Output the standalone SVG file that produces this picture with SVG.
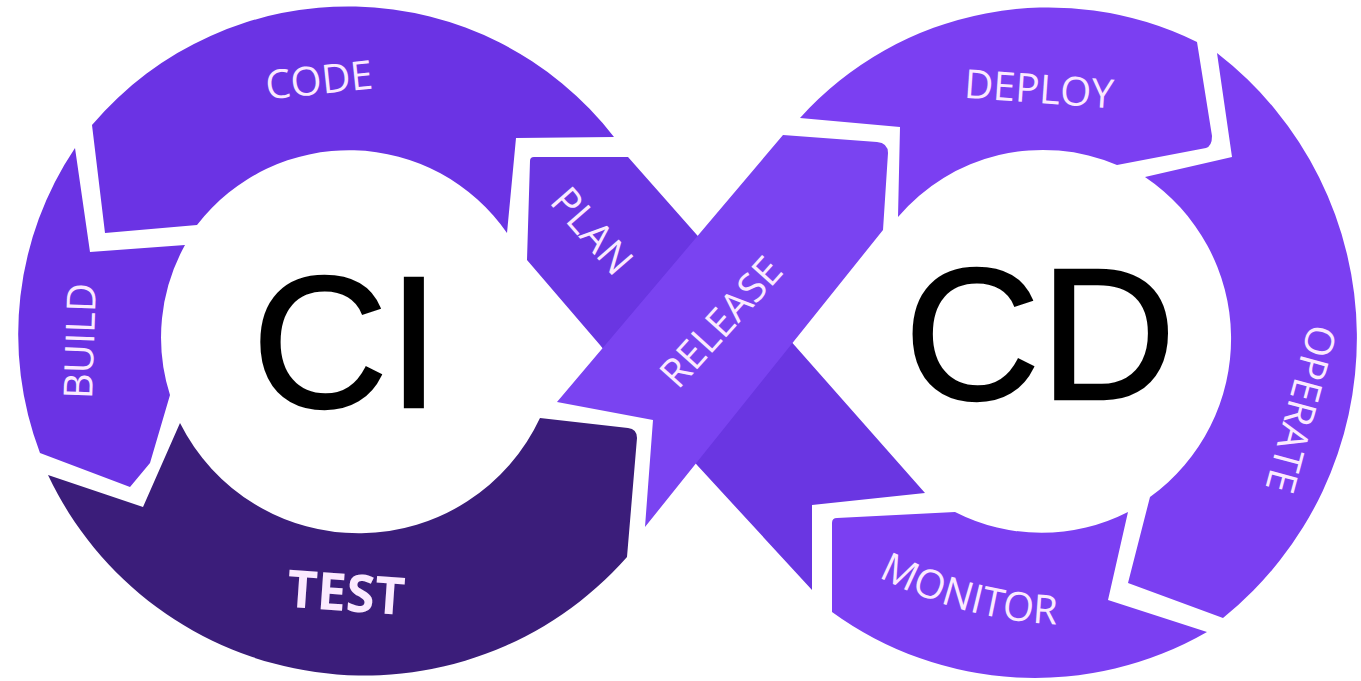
<svg xmlns="http://www.w3.org/2000/svg" width="1361" height="681" viewBox="0 0 1361 681">
<defs>
<style>
.lbl{font-family:"Open Sans","Noto Sans","DejaVu Sans",sans-serif;font-size:40px;fill:#fbeaff;text-anchor:middle}
.bold{font-weight:700;font-size:52px}
.big{font-family:"Liberation Sans",Arial,sans-serif;font-size:188px;fill:#000;stroke:#000;stroke-width:2.5;text-anchor:middle}
.ci{fill:#6b33e4}
.test{fill:#3b1d7a}
.cd{fill:#7b3ff2}
.plan{fill:#6a36e2}
.release{fill:#7a43f1}
</style>
<path id="monPath" d="M829,547 A430,430 0 0 0 1114,623"/>
</defs>
<rect width="1361" height="681" fill="#ffffff"/>

<g id="connectors"></g>

<g id="code">
<path class="ci" d="M92,125 A336,336 0 0 1 614,137 L516,138 L507,233 A192,192 0 0 0 197,225 L105,233 Z"/>
<text class="lbl" transform="translate(319,80) rotate(-6)" y="14">CODE</text>
</g>

<g id="build">
<path class="ci" d="M75,148 L90,252 L185,245 A190,190 0 0 0 170,395 L150,463 L130,487 L40,453 A334,334 0 0 1 75,148 Z"/>
<text class="lbl" transform="translate(80,341) rotate(-88)" y="14">BUILD</text>
</g>

<g id="test">
<path class="test" d="M48,475 L143,507 L180,423 A200,200 0 0 0 540,418 L628,428 Q637,429 637,438 L627,557 A350,350 0 0 1 48,475 Z"/>
<text class="lbl bold" transform="translate(346,593) rotate(4)" y="18">TEST</text>
</g>

<g id="plan">
<path class="plan" d="M530,161 Q530,157 534,157 L628,157 L925,493 L812,505 L812,590 L697,465 L600,345 L527,260 Z"/>
<text class="lbl" transform="translate(592,231) rotate(49)" y="14">PLAN</text>
</g>

<g id="release">
<path class="release" d="M557,402 L653,420 L645,527 L883,230 L888,153 Q888,143 877,142 L783,135 Z"/>
<text class="lbl" transform="translate(721,322) rotate(-48)" y="14">RELEASE</text>
</g>

<g id="deploy">
<path class="cd" d="M800,118 L900,127 L898,217 A190,190 0 0 1 1117,165 L1206,148 Q1212,146 1212,136 L1197,42 A335,335 0 0 0 800,118 Z"/>
<text class="lbl" transform="translate(1039,89) rotate(4)" y="14">DEPLOY</text>
</g>

<g id="operate">
<path class="cd" d="M1217,53 L1232,157 L1145,177 A195,195 0 0 1 1150,497 L1128,583 L1223,618 A360,360 0 0 0 1217,53 Z"/>
<text class="lbl" transform="translate(1301,409) rotate(105)" y="14">OPERATE</text>
</g>

<g id="monitor">
<path class="cd" d="M832,523 Q832,518 837,518 L955,512 A190,190 0 0 0 1128,512 L1108,600 L1207,632 A345,345 0 0 1 832,612 Z"/>
<text class="lbl"><textPath href="#monPath" startOffset="50%">MONITOR</textPath></text>
</g>

<g id="ci">
<text class="big" x="346" y="407">CI</text>
</g>

<g id="cd">
<text class="big" x="1040" y="399">CD</text>
</g>
</svg>
